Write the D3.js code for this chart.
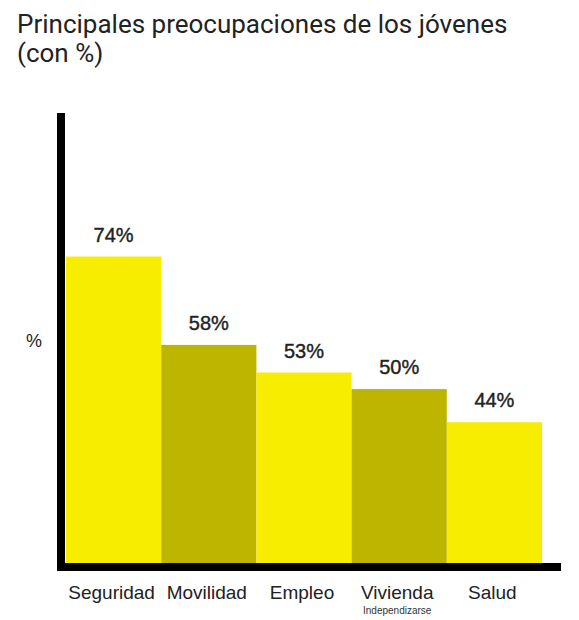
<!DOCTYPE html>
<html><head><meta charset="utf-8">
<script src="https://cdn.jsdelivr.net/npm/d3@7"></script>
<style>body{margin:0;background:#fff}svg{display:block}</style>
</head><body>
<svg id="c" width="579" height="620"></svg>
<script>
const categories = ["Seguridad","Movilidad","Empleo","Vivienda","Salud"];
const subLabels = ["","","","Independizarse",""];
const values = [74,58,53,50,44];
const barColors = ["#F7ED00","#BDB500","#F7ED00","#BDB500","#F7ED00"];
const titleLines = ["Principales preocupaciones de los jóvenes","(con %)"];
const yAxisLabel = "%";

const svg = d3.select("#c");
const x = d3.scaleBand().domain(categories).range([66,542]).padding(0);
const y = d3.scaleLinear().domain([18.5,100]).range([563,113]);

svg.selectAll("text.title").data(titleLines).join("text")
  .attr("class","title").attr("x",17).attr("y",(d,i)=>33+i*29)
  .attr("font-family","Roboto").attr("font-size",26).attr("fill","#222").text(d=>d);

svg.selectAll("rect.bar").data(values).join("rect")
  .attr("class","bar")
  .attr("x",(d,i)=>x(categories[i]))
  .attr("width",x.bandwidth())
  .attr("y",d=>y(d))
  .attr("height",d=>y.range()[0]-y(d))
  .attr("fill",(d,i)=>barColors[i]);

svg.selectAll("text.val").data(values).join("text")
  .attr("class","val")
  .attr("x",(d,i)=>x(categories[i])+x.bandwidth()/2)
  .attr("y",d=>y(d)-15)
  .attr("text-anchor","middle")
  .attr("font-family","Liberation Sans, Arial").attr("font-size",20).attr("fill","#222")
  .attr("stroke","#222").attr("stroke-width",0.4)
  .text(d=>d+"%");

// axes
const x0 = 57, yBottom = y.range()[0];
svg.append("rect").attr("x",x0).attr("y",y.range()[1]).attr("width",8)
  .attr("height",yBottom+8-y.range()[1]).attr("fill","#000");
svg.append("rect").attr("x",x0).attr("y",yBottom).attr("width",561-x0)
  .attr("height",8).attr("fill","#000");

svg.selectAll("text.cat").data(categories).join("text")
  .attr("class","cat")
  .attr("x",d=>x(d)+x.bandwidth()/2-2)
  .attr("y",599)
  .attr("text-anchor","middle")
  .attr("font-family","Liberation Sans, Arial").attr("font-size",19).attr("fill","#222")
  .text(d=>d);

svg.selectAll("text.sub").data(subLabels).join("text")
  .attr("class","sub")
  .attr("x",(d,i)=>x(categories[i])+x.bandwidth()/2-2)
  .attr("y",614)
  .attr("text-anchor","middle")
  .attr("font-family","Liberation Sans, Arial").attr("font-size",10).attr("fill","#333")
  .text(d=>d);

svg.append("text").attr("x",34).attr("y",347).attr("text-anchor","middle")
  .attr("font-family","Liberation Sans, Arial").attr("font-size",18).attr("fill","#222")
  .text(yAxisLabel);
</script>
</body></html>
